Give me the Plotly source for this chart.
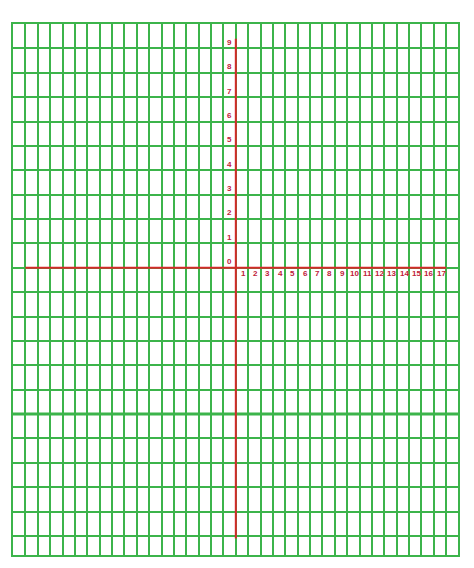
import plotly.graph_objects as go

# tick labels printed along the red axes
x_labels = list(range(1, 18))
y_labels = list(range(0, 10))

# extents of the red axis lines (in grid units)
x_axis_span = [-17, 17]
y_axis_span = [-11.1, 9.4]

# heavier green rule below the axis
heavy_rows = [-6]

GREEN = '#3cb44b'
RED = '#d42a2a'
LABEL = '#c0203a'

fig = go.Figure()

# heavier horizontal rule
for r in heavy_rows:
    fig.add_trace(go.Scatter(x=[-18, 18], y=[r, r], mode='lines',
                             line=dict(color=GREEN, width=3),
                             hoverinfo='skip', showlegend=False))

# red x and y axis
fig.add_trace(go.Scatter(x=x_axis_span, y=[0, 0], mode='lines',
                         line=dict(color=RED, width=2),
                         hoverinfo='skip', showlegend=False))
fig.add_trace(go.Scatter(x=[0, 0], y=y_axis_span, mode='lines',
                         line=dict(color=RED, width=2),
                         hoverinfo='skip', showlegend=False))

# labels
for v in x_labels:
    fig.add_annotation(x=v - 0.4, y=-0.25, text='<b>%d</b>' % v, showarrow=False,
                       font=dict(family='Liberation Sans', size=8, color=LABEL))
for v in y_labels:
    fig.add_annotation(x=-0.55, y=v + 0.25, text='<b>%d</b>' % v, showarrow=False,
                       font=dict(family='Liberation Sans', size=8, color=LABEL))

fig.update_xaxes(range=[-18, 17.95], tick0=0, dtick=1, showgrid=True,
                 gridcolor=GREEN, gridwidth=2, zeroline=False,
                 showticklabels=False, ticks='', showline=True, mirror=True,
                 linecolor=GREEN, linewidth=2)
fig.update_yaxes(range=[-11.78, 10], tick0=0, dtick=1, showgrid=True,
                 gridcolor=GREEN, gridwidth=2, zeroline=False,
                 showticklabels=False, ticks='', showline=True, mirror=True,
                 linecolor=GREEN, linewidth=2)

# page body adds ~8px offset, so margins are shifted to compensate
fig.update_layout(width=474, height=568,
                  margin=dict(l=5, r=24, t=16, b=21),
                  plot_bgcolor='white', paper_bgcolor='white',
                  showlegend=False)

fig.write_html("out.html")
